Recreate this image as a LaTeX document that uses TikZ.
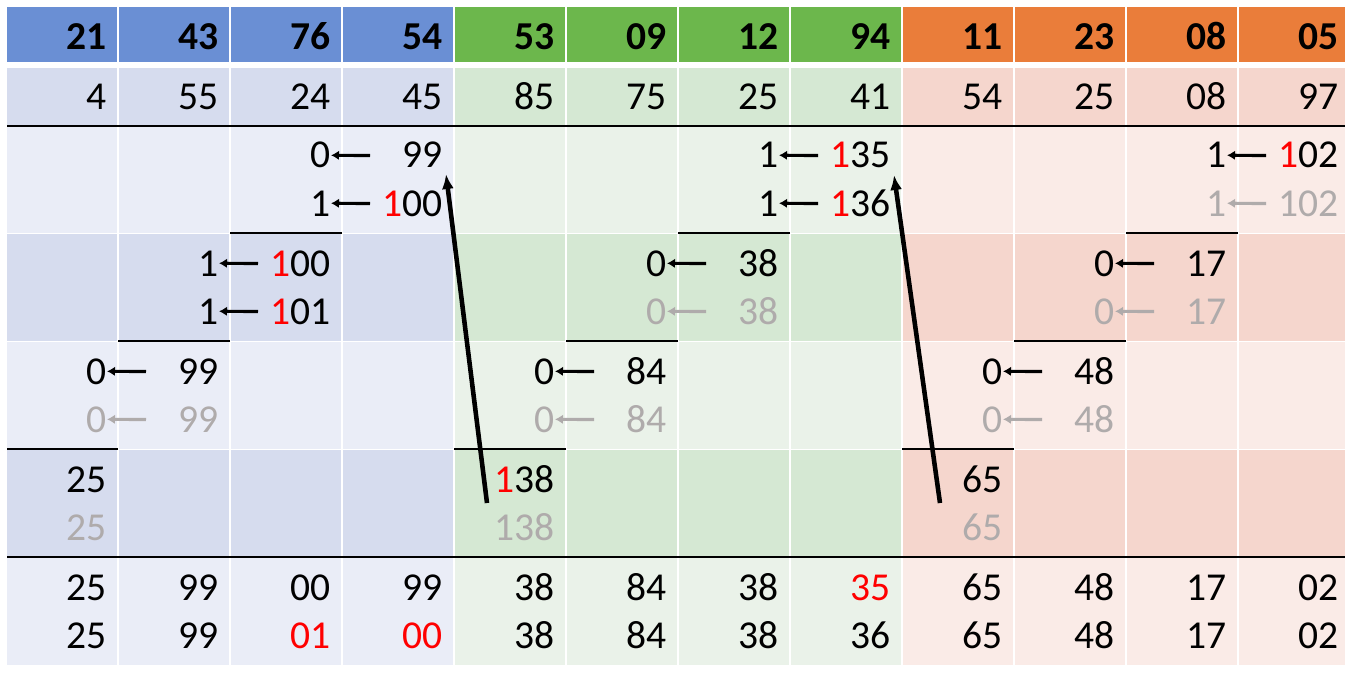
\documentclass[tikz,border=0pt]{standalone}
\usepackage{fontspec}
\setmainfont{Carlito}
\usetikzlibrary{arrows.meta}

\definecolor{bluehead}{RGB}{106,143,212}
\definecolor{bluedark}{RGB}{214,220,238}
\definecolor{bluelight}{RGB}{234,237,247}
\definecolor{greenhead}{RGB}{108,183,76}
\definecolor{greendark}{RGB}{213,232,211}
\definecolor{greenlight}{RGB}{234,242,233}
\definecolor{orangehead}{RGB}{234,125,58}
\definecolor{orangedark}{RGB}{245,214,205}
\definecolor{orangelight}{RGB}{250,235,231}
\definecolor{ghostgray}{RGB}{175,171,171}
\definecolor{carry}{RGB}{255,0,0}

\tikzset{
  num/.style={anchor=base east, inner sep=0pt, font=\fontsize{22.5}{27}\selectfont},
  headnum/.style={num, font=\fontsize{22.5}{27}\selectfont\bfseries},
  ghost/.style={num, text=ghostgray},
  movearrow/.style={-{Latex[length=1.6mm,width=1.9mm]}, line width=1.8pt},
  ghostarrow/.style={movearrow, ghostgray},
  jumparrow/.style={-{Latex[length=3mm,width=2.4mm]}, line width=2.6pt},
  rule/.style={line width=1.4pt, black}
}

\begin{document}
\begin{tikzpicture}[x=0.02cm,y=-0.02cm]
\useasboundingbox (0,0) rectangle (1345,682);

% bands
\fill[bluehead] (7,7) rectangle (454,62);
\fill[greenhead] (454,7) rectangle (902,62);
\fill[orangehead] (902,7) rectangle (1345,62);

\fill[bluedark] (7,68) rectangle (454,126);
\fill[greendark] (454,68) rectangle (902,126);
\fill[orangedark] (902,68) rectangle (1345,126);

\fill[bluelight] (7,126) rectangle (454,234);
\fill[greenlight] (454,126) rectangle (902,234);
\fill[orangelight] (902,126) rectangle (1345,234);

\fill[bluedark] (7,234) rectangle (454,342);
\fill[greendark] (454,234) rectangle (902,342);
\fill[orangedark] (902,234) rectangle (1345,342);

\fill[bluelight] (7,342) rectangle (454,450);
\fill[greenlight] (454,342) rectangle (902,450);
\fill[orangelight] (902,342) rectangle (1345,450);

\fill[bluedark] (7,450) rectangle (454,558);
\fill[greendark] (454,450) rectangle (902,558);
\fill[orangedark] (902,450) rectangle (1345,558);

\fill[bluelight] (7,558) rectangle (454,665);
\fill[greenlight] (454,558) rectangle (902,665);
\fill[orangelight] (902,558) rectangle (1345,665);

% white cell borders
\foreach \x in {118,230,342,454,566,678,790,902,1014,1126,1238}
  \draw[white, line width=1.2pt] (\x,7) -- (\x,665);
\foreach \y in {233.5,341.5,449.5}
  \draw[white, line width=0.6pt] (7,\y) -- (1345,\y);

% rules
\draw[rule] (7,126) -- (1345,126);
\draw[rule] (7,557) -- (1345,557);
\draw[rule] (230,233) -- (342,233);
\draw[rule] (678,233) -- (790,233);
\draw[rule] (1126,233) -- (1238,233);
\draw[rule] (118,341) -- (230,341);
\draw[rule] (566,341) -- (678,341);
\draw[rule] (1014,341) -- (1126,341);
\draw[rule] (7,449) -- (118,449);
\draw[rule] (454,449) -- (566,449);
\draw[rule] (902,449) -- (1014,449);

% header
\node[headnum] (h0) at (107,50) {21};
\node[headnum] (h1) at (219,50) {43};
\node[headnum] (h2) at (331,50) {76};
\node[headnum] (h3) at (443,50) {54};
\node[headnum] (h4) at (555,50) {53};
\node[headnum] (h5) at (667,50) {09};
\node[headnum] (h6) at (779,50) {12};
\node[headnum] (h7) at (891,50) {94};
\node[headnum] (h8) at (1003,50) {11};
\node[headnum] (h9) at (1115,50) {23};
\node[headnum] (h10) at (1227,50) {08};
\node[headnum] (h11) at (1339,50) {05};

% second operand
\node[num] (v0) at (107,110) {4};
\node[num] (v1) at (219,110) {55};
\node[num] (v2) at (331,110) {24};
\node[num] (v3) at (443,110) {45};
\node[num] (v4) at (555,110) {85};
\node[num] (v5) at (667,110) {75};
\node[num] (v6) at (779,110) {25};
\node[num] (v7) at (891,110) {41};
\node[num] (v8) at (1003,110) {54};
\node[num] (v9) at (1115,110) {25};
\node[num] (v10) at (1227,110) {08};
\node[num] (v11) at (1339,110) {97};

% step 1
\node[num] (s1c2a) at (331,168) {0};
\node[num] (s1c3a) at (443,168) {99};
\node[num] (s1c2b) at (331,216) {1};
\node[num] (s1c3b) at (443,216) {{\color{carry}1}00};
\coordinate (s1c2at) at (370,155.5);
\coordinate (s1c2bt) at (370,203.5);
\draw[movearrow] (s1c2at) -- (s1c2a.east);
\draw[movearrow] (s1c2bt) -- (s1c2b.east);

\node[num] (s1c6a) at (779,168) {1};
\node[num] (s1c7a) at (891,168) {{\color{carry}1}35};
\node[num] (s1c6b) at (779,216) {1};
\node[num] (s1c7b) at (891,216) {{\color{carry}1}36};
\coordinate (s1c6at) at (818,155.5);
\coordinate (s1c6bt) at (818,203.5);
\draw[movearrow] (s1c6at) -- (s1c6a.east);
\draw[movearrow] (s1c6bt) -- (s1c6b.east);

\node[num] (s1c10a) at (1227,168) {1};
\node[num] (s1c11a) at (1339,168) {{\color{carry}1}02};
\node[ghost] (s1c10b) at (1227,216) {1};
\node[ghost] (s1c11b) at (1339,216) {102};
\coordinate (s1c10at) at (1266,155.5);
\coordinate (s1c10bt) at (1266,203.5);
\draw[movearrow] (s1c10at) -- (s1c10a.east);
\draw[ghostarrow] (s1c10bt) -- (s1c10b.east);

% step 2
\node[num] (s2c1a) at (219,276) {1};
\node[num] (s2c2a) at (331,276) {{\color{carry}1}00};
\node[num] (s2c1b) at (219,324) {1};
\node[num] (s2c2b) at (331,324) {{\color{carry}1}01};
\coordinate (s2c1at) at (258,263.5);
\coordinate (s2c1bt) at (258,311.5);
\draw[movearrow] (s2c1at) -- (s2c1a.east);
\draw[movearrow] (s2c1bt) -- (s2c1b.east);

\node[num] (s2c5a) at (667,276) {0};
\node[num] (s2c6a) at (779,276) {38};
\node[ghost] (s2c5b) at (667,324) {0};
\node[ghost] (s2c6b) at (779,324) {38};
\coordinate (s2c5at) at (706,263.5);
\coordinate (s2c5bt) at (706,311.5);
\draw[movearrow] (s2c5at) -- (s2c5a.east);
\draw[ghostarrow] (s2c5bt) -- (s2c5b.east);

\node[num] (s2c9a) at (1115,276) {0};
\node[num] (s2c10a) at (1227,276) {17};
\node[ghost] (s2c9b) at (1115,324) {0};
\node[ghost] (s2c10b) at (1227,324) {17};
\coordinate (s2c9at) at (1154,263.5);
\coordinate (s2c9bt) at (1154,311.5);
\draw[movearrow] (s2c9at) -- (s2c9a.east);
\draw[ghostarrow] (s2c9bt) -- (s2c9b.east);

% step 3
\node[num] (s3c0a) at (107,384) {0};
\node[num] (s3c1a) at (219,384) {99};
\node[ghost] (s3c0b) at (107,432) {0};
\node[ghost] (s3c1b) at (219,432) {99};
\coordinate (s3c0at) at (146,371.5);
\coordinate (s3c0bt) at (146,419.5);
\draw[movearrow] (s3c0at) -- (s3c0a.east);
\draw[ghostarrow] (s3c0bt) -- (s3c0b.east);

\node[num] (s3c4a) at (555,384) {0};
\node[num] (s3c5a) at (667,384) {84};
\node[ghost] (s3c4b) at (555,432) {0};
\node[ghost] (s3c5b) at (667,432) {84};
\coordinate (s3c4at) at (594,371.5);
\coordinate (s3c4bt) at (594,419.5);
\draw[movearrow] (s3c4at) -- (s3c4a.east);
\draw[ghostarrow] (s3c4bt) -- (s3c4b.east);

\node[num] (s3c8a) at (1003,384) {0};
\node[num] (s3c9a) at (1115,384) {48};
\node[ghost] (s3c8b) at (1003,432) {0};
\node[ghost] (s3c9b) at (1115,432) {48};
\coordinate (s3c8at) at (1042,371.5);
\coordinate (s3c8bt) at (1042,419.5);
\draw[movearrow] (s3c8at) -- (s3c8a.east);
\draw[ghostarrow] (s3c8bt) -- (s3c8b.east);

% step 4
\node[num] (s4c0a) at (107,492) {25};
\node[ghost] (s4c0b) at (107,540) {25};
\node[num] (s4c4a) at (555,492) {{\color{carry}1}38};
\node[ghost] (s4c4b) at (555,540) {138};
\node[num] (s4c8a) at (1003,492) {65};
\node[ghost] (s4c8b) at (1003,540) {65};

% carries between blocks
\coordinate (jump1tail) at (487,503);
\coordinate (jump1head) at (446,174);
\coordinate (jump2tail) at (940,503);
\coordinate (jump2head) at (894,175);
\draw[jumparrow] (jump1tail) -- (jump1head);
\draw[jumparrow] (jump2tail) -- (jump2head);

% result
\node[num] (r0a) at (107,600) {25};
\node[num] (r1a) at (219,600) {99};
\node[num] (r2a) at (331,600) {00};
\node[num] (r3a) at (443,600) {99};
\node[num] (r4a) at (555,600) {38};
\node[num] (r5a) at (667,600) {84};
\node[num] (r6a) at (779,600) {38};
\node[num, text=carry] (r7a) at (891,600) {35};
\node[num] (r8a) at (1003,600) {65};
\node[num] (r9a) at (1115,600) {48};
\node[num] (r10a) at (1227,600) {17};
\node[num] (r11a) at (1339,600) {02};

\node[num] (r0b) at (107,648) {25};
\node[num] (r1b) at (219,648) {99};
\node[num, text=carry] (r2b) at (331,648) {01};
\node[num, text=carry] (r3b) at (443,648) {00};
\node[num] (r4b) at (555,648) {38};
\node[num] (r5b) at (667,648) {84};
\node[num] (r6b) at (779,648) {38};
\node[num] (r7b) at (891,648) {36};
\node[num] (r8b) at (1003,648) {65};
\node[num] (r9b) at (1115,648) {48};
\node[num] (r10b) at (1227,648) {17};
\node[num] (r11b) at (1339,648) {02};
\end{tikzpicture}
\end{document}
